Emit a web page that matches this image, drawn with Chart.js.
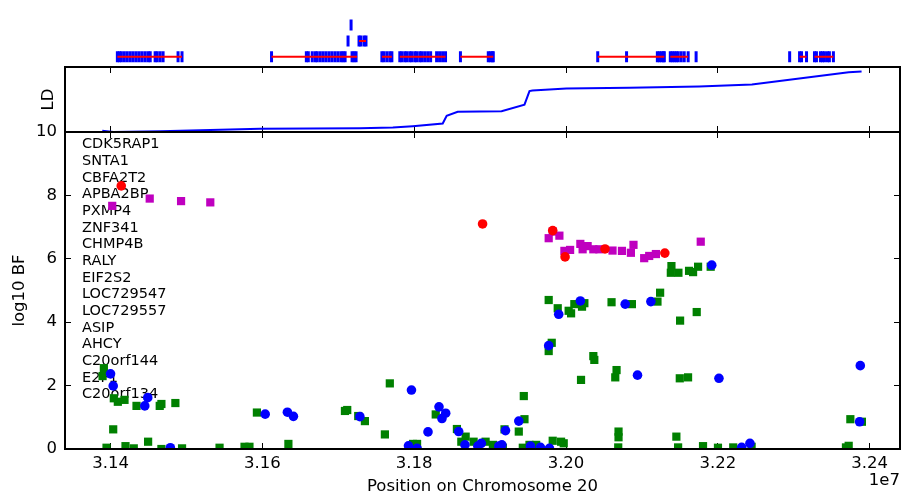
<!DOCTYPE html>
<html>
<head>
<meta charset="utf-8">
<title>log10 BF on chromosome 20</title>
<script src="https://cdn.jsdelivr.net/npm/chart.js@4.4.1/dist/chart.umd.min.js"></script>
<style>
    html, body { margin: 0; padding: 0; background: #fff; }
    #wrap { position: relative; width: 906px; height: 497px; }
    #wrap canvas { position: absolute; left: 0; top: 0; }
</style>
</head>
<body>
<div id="wrap">
    <canvas id="genechart" width="906" height="497"></canvas>
    <canvas id="ldchart" width="906" height="497"></canvas>
    <canvas id="bfchart" width="906" height="497"></canvas>
</div>
<script>
"use strict";

var geneNames = ['CDK5RAP1', 'SNTA1', 'CBFA2T2', 'APBA2BP', 'PXMP4', 'ZNF341', 'CHMP4B', 'RALY',
    'EIF2S2', 'LOC729547', 'LOC729557', 'ASIP', 'AHCY', 'C20orf144', 'E2F1', 'C20orf134'];

var xMin = 31340000;
var xMax = 32440000;
var xTicks = [31400000, 31600000, 31800000, 32000000, 32200000, 32400000];
var yTicks = [0, 2, 4, 6, 8, 10];

/* gene models in the top track: row, start, end, exon positions */
var geneRows = [0, 0, 0, 0, 0, 0, 0, 0, 0, 0, 0, 1, 1, 2];
var geneStarts = [31409200, 31612900, 31758700, 31782400, 31862500, 32043900, 32139800, 32173900, 32297500, 32310600, 32330300, 31714000, 31728500, 31718000];
var geneEnds = [31494600, 31725900, 31771900, 31842800, 31905900, 32131900, 32163400, 32173900, 32297500, 32319800, 32355300, 31714000, 31737700, 31718000];
var geneExons = [
    [31409200, 31411800, 31414500, 31418400, 31422300, 31426300, 31430200, 31434200, 31438100, 31442000, 31446000, 31449900, 31452600, 31459100, 31461800, 31465700, 31469600, 31489400, 31494600],
    [31612900, 31658900, 31661500, 31666700, 31670700, 31673300, 31677300, 31681200, 31685100, 31689100, 31693000, 31697000, 31700900, 31704800, 31707500, 31710100, 31719300, 31721900, 31724600],
    [31758700, 31761400, 31765300, 31769200, 31771900],
    [31782400, 31785000, 31788900, 31791600, 31795500, 31798100, 31802100, 31804700, 31808700, 31811300, 31815200, 31819200, 31823100, 31831000, 31834900, 31838900, 31842800],
    [31862500, 31899300, 31901900, 31904600, 31905900],
    [32043900, 32082000, 32122700, 32125300, 32128000, 32130600, 32131900],
    [32139800, 32142400, 32145000, 32147700, 32150300, 32154200, 32158200, 32163400],
    [32173900],
    [32297500],
    [32310600, 32313200, 32319800],
    [32330300, 32332900, 32338200, 32340800, 32343500, 32347400, 32350000, 32355300],
    [31714000],
    [31728500, 31730800, 31735100, 31737700],
    [31718000]
];

/* LD curve */
var ldPos = [31389100, 31403900, 31465700, 31531400, 31597100, 31728500, 31771900, 31798100, 31837600, 31842800, 31857300,
    31915100, 31945300, 31951900, 31955800, 32000500, 32083300, 32175300, 32244900, 32372400, 32389400];
var ldValues = [0.02, 0.00, 0.01, 0.03, 0.05, 0.057, 0.07, 0.09, 0.13, 0.25, 0.31,
    0.32, 0.42, 0.63, 0.64, 0.67, 0.68, 0.70, 0.73, 0.92, 0.93];

/* log10 BF points: [position, log10 BF] */
var redCircles = [[31414100, 8.30], [31890100, 7.10], [31982500, 6.89], [31998800, 6.06], [32051400, 6.31], [32130200, 6.18]];

var magentaSquares = [[31402200, 7.67], [31451600, 7.90], [31492900, 7.82], [31531400, 7.78],
    [31977200, 6.65], [31982500, 6.86], [31991300, 6.73], [31997900, 6.25], [32005400, 6.28], [32018900, 6.47],
    [32021900, 6.30], [32028500, 6.40], [32036000, 6.30], [32043900, 6.30], [32061300, 6.26], [32073700, 6.25],
    [32085500, 6.19], [32088900, 6.44], [32103000, 6.02], [32109600, 6.09], [32118400, 6.15], [32177500, 6.54]];

var blueCircles = [[31400000, 2.37], [31403500, 1.99], [31449000, 1.62], [31445100, 1.36], [31478800, 0.04],
    [31603700, 1.10], [31633000, 1.16], [31640900, 1.03], [31728500, 1.02],
    [31796400, 1.86], [31832700, 1.33], [31841500, 1.13], [31836600, 0.96], [31818200, 0.54], [31858600, 0.55],
    [31792500, 0.10], [31803800, 0.02], [31866900, 0.13], [31883900, 0.09], [31888400, 0.18],
    [31911500, 0.09], [31915500, 0.13], [31937800, 0.88], [31920300, 0.58], [31953200, 0.09], [31966300, 0.05], [31978200, 0.02],
    [31977200, 3.26], [31990400, 4.25], [32018900, 4.67], [32078000, 4.57], [32111800, 4.65], [32192000, 5.80],
    [32094200, 2.33], [32201500, 2.23], [32387700, 2.63], [32386800, 0.86], [32231400, 0.05], [32242300, 0.18]];

var greenSquares = [[31391200, 2.55], [31389500, 2.30], [31404300, 1.60], [31409600, 1.49], [31418400, 1.55], [31434200, 1.36],
    [31464800, 1.36], [31467000, 1.42], [31485400, 1.45], [31403500, 0.62], [31394700, 0.04], [31419700, 0.09],
    [31430600, 0.02], [31449500, 0.23], [31467000, 0.00], [31494200, 0.02], [31543600, 0.04], [31576500, 0.07],
    [31583000, 0.07], [31592800, 1.15], [31634300, 0.16], [31708800, 1.20], [31711800, 1.23], [31726300, 1.04],
    [31735100, 0.88], [31767900, 2.07], [31761400, 0.46], [31798500, 0.16], [31803800, 0.16], [31828400, 1.09],
    [31856300, 0.63], [31867800, 0.39], [31862100, 0.23], [31878300, 0.23], [31894100, 0.23], [31903700, 0.13],
    [31919000, 0.62], [31945300, 0.94], [31944400, 1.67], [31937800, 0.55], [31951900, 0.13], [31960700, 0.13],
    [31982500, 0.26], [31993500, 0.23], [31997000, 0.18], [31943100, 0.04], [31916800, 0.04],
    [32138900, 5.77], [32138100, 5.56], [32148100, 5.56], [32162100, 5.62], [32167400, 5.58], [32174000, 5.75], [32190600, 5.75],
    [31977200, 4.70], [31989100, 4.44], [32003500, 4.36], [32006700, 4.28], [32011000, 4.57], [32024200, 4.60], [32021100, 4.49],
    [32060000, 4.63], [32086800, 4.57], [32120500, 4.65], [32124000, 4.93], [32150300, 4.05], [32172200, 4.32],
    [31981200, 3.35], [31977200, 3.09], [32036000, 2.93], [32037300, 2.81], [32066600, 2.49], [32064900, 2.26],
    [32019800, 2.18], [32149900, 2.23], [32160800, 2.26],
    [32069200, 0.55], [32069200, 0.37], [32068800, 0.05], [32145400, 0.39], [32147700, 0.05], [32180500, 0.09],
    [32200200, 0.04], [32220300, 0.05], [32244500, 0.07], [32374600, 0.94], [32389800, 0.86], [32372400, 0.10], [32368800, 0.05]];

Chart.defaults.font.family = '"DejaVu Sans", sans-serif';
Chart.defaults.font.size = 16.5;
Chart.defaults.color = '#000';

function toXY(list) {
    return list.map(function (p) { return { x: p[0], y: p[1] }; });
}

function setXTicks(scale) {
    scale.ticks = xTicks.map(function (v) { return { value: v }; });
}

function setYTicks(scale) {
    scale.ticks = yTicks.map(function (v) { return { value: v }; });
}

/* matplotlib style frame: inward ticks, black spines */
function frameAxis(position, extra) {
    var axis = {
        position: position,
        grid: { drawOnChartArea: false, tickLength: -6, color: '#000', lineWidth: 1 },
        border: { display: true, color: '#000', width: 2, z: 1 },
        ticks: { display: false }
    };
    return Object.assign(axis, extra);
}

/* gene track */
var geneSets = [];
geneStarts.forEach(function (start, i) {
    if (geneEnds[i] > start) {
        geneSets.push({
            data: [{ x: start, y: geneRows[i] }, { x: geneEnds[i], y: geneRows[i] }],
            showLine: true,
            borderColor: '#ff0000',
            borderWidth: 2,
            pointRadius: 0,
            order: 0
        });
    }
});
geneSets.push({
    data: [].concat.apply([], geneExons.map(function (ex, i) {
        return ex.map(function (x) { return { x: x, y: geneRows[i] }; });
    })),
    pointStyle: 'line',
    pointRotation: 90,
    pointRadius: 5.5,
    pointBorderWidth: 3,
    pointBorderColor: '#0000ff',
    pointBackgroundColor: '#0000ff',
    order: 1
});

new Chart(document.getElementById('genechart'), {
    type: 'scatter',
    data: { datasets: geneSets },
    options: {
        responsive: false,
        animation: false,
        events: [],
        layout: { padding: { top: 0, right: 6, bottom: 431, left: 65 } },
        plugins: { legend: { display: false }, tooltip: { enabled: false } },
        scales: {
            x: { display: false, min: xMin, max: xMax },
            y: { display: false, min: -0.58, max: 3.04 }
        }
    }
});

/* LD panel */
new Chart(document.getElementById('ldchart'), {
    type: 'scatter',
    data: {
        datasets: [{
            data: ldPos.map(function (x, i) { return { x: x, y: ldValues[i] }; }),
            showLine: true,
            borderColor: '#0000ff',
            borderWidth: 2,
            pointRadius: 0,
            tension: 0
        }]
    },
    options: {
        responsive: false,
        animation: false,
        events: [],
        layout: { padding: { top: 67, right: 6, bottom: 365, left: 0 } },
        plugins: { legend: { display: false }, tooltip: { enabled: false } },
        scales: {
            x: frameAxis('bottom', { type: 'linear', min: xMin, max: xMax, afterBuildTicks: setXTicks, afterFit: function (s) { s.height = 0; } }),
            x2: frameAxis('top', { type: 'linear', min: xMin, max: xMax, afterBuildTicks: setXTicks, afterFit: function (s) { s.height = 0; } }),
            y: frameAxis('left', {
                type: 'linear', min: 0, max: 1,
                grid: { display: false },
                afterFit: function (s) { s.width = 65; },
                title: { display: true, text: 'LD', padding: { top: 39, bottom: 0 } }
            }),
            y2: frameAxis('right', { type: 'linear', min: 0, max: 1, grid: { display: false }, afterFit: function (s) { s.width = 0; } })
        }
    }
});

/* gene name list and offset text */
var textPlugin = {
    id: 'textPlugin',
    beforeDatasetsDraw: function (chart) {
        var ctx = chart.ctx;
        var area = chart.chartArea;
        ctx.save();
        ctx.fillStyle = '#000';
        ctx.textBaseline = 'middle';
        ctx.textAlign = 'left';
        ctx.font = '14.5px "DejaVu Sans"';
        geneNames.forEach(function (name, i) {
            ctx.fillText(name, area.left + 17, area.top + 12.5 + i * 16.67);
        });
        ctx.textAlign = 'right';
        ctx.font = '16.5px "DejaVu Sans"';
        ctx.fillText('1e7', area.right, area.bottom + 32);
        ctx.restore();
    }
};

/* main log10 BF panel */
new Chart(document.getElementById('bfchart'), {
    type: 'scatter',
    data: {
        datasets: [{
            data: toXY(redCircles),
            pointStyle: 'circle', pointRadius: 4.8, pointBorderWidth: 0,
            pointBackgroundColor: '#ff0000', pointBorderColor: '#ff0000', clip: 1
        }, {
            data: toXY(magentaSquares),
            pointStyle: 'rect', pointRadius: 5.8, pointBorderWidth: 0,
            pointBackgroundColor: '#bf00bf', pointBorderColor: '#bf00bf', clip: 1
        }, {
            data: toXY(blueCircles),
            pointStyle: 'circle', pointRadius: 4.8, pointBorderWidth: 0,
            pointBackgroundColor: '#0000ff', pointBorderColor: '#0000ff', clip: 1
        }, {
            data: toXY(greenSquares),
            pointStyle: 'rect', pointRadius: 5.8, pointBorderWidth: 0,
            pointBackgroundColor: '#008000', pointBorderColor: '#008000', clip: 1
        }]
    },
    options: {
        responsive: false,
        animation: false,
        events: [],
        layout: { padding: { top: 132, right: 6, bottom: 0, left: 0 } },
        plugins: { legend: { display: false }, tooltip: { enabled: false } },
        scales: {
            x: frameAxis('bottom', {
                type: 'linear', min: xMin, max: xMax,
                afterBuildTicks: setXTicks,
                afterFit: function (s) { s.height = 48; },
                ticks: {
                    display: true, padding: 11, maxRotation: 0, autoSkip: false,
                    callback: function (v) { return (v / 1e7).toFixed(2); }
                },
                title: { display: true, text: 'Position on Chromosome 20', padding: { top: 0, bottom: 0 } }
            }),
            x2: frameAxis('top', { type: 'linear', min: xMin, max: xMax, afterBuildTicks: setXTicks, afterFit: function (s) { s.height = 0; } }),
            y: frameAxis('left', {
                type: 'linear', min: 0, max: 10,
                afterBuildTicks: setYTicks,
                afterFit: function (s) { s.width = 65; },
                ticks: { display: true, padding: 14 },
                title: { display: true, text: 'log10 BF', padding: { top: 10, bottom: 0 } }
            }),
            y2: frameAxis('right', { type: 'linear', min: 0, max: 10, afterBuildTicks: setYTicks, afterFit: function (s) { s.width = 0; } })
        }
    },
    plugins: [textPlugin]
});
</script>
</body>
</html>
